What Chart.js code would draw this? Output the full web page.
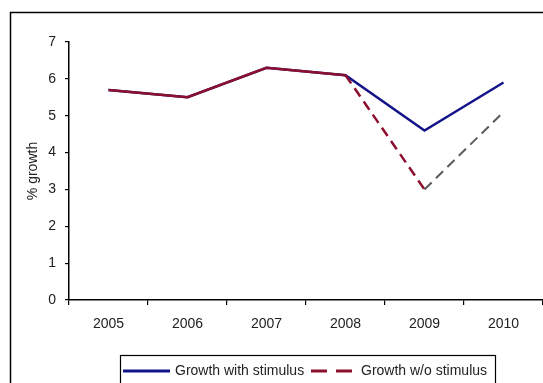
<!DOCTYPE html>
<html>
<head>
<meta charset="utf-8">
<script src="https://cdn.jsdelivr.net/npm/chart.js@4"></script>
<style>
html,body{margin:0;padding:0;background:#fff;}
#wrap{width:543px;height:383px;position:relative;}
</style>
</head>
<body>
<div id="wrap"><canvas id="c" width="543" height="383"></canvas></div>
<script>
const categories = ["2005","2006","2007","2008","2009","2010"];
const withStimulus = [5.7, 5.5, 6.3, 6.1, 4.6, 5.9];
const withoutStimulus = [5.7, 5.5, 6.3, 6.1, 3.0, 5.1];
const seriesNames = ["Growth with stimulus", "Growth w/o stimulus"];
const yTicks = [0,1,2,3,4,5,6,7];

const BLUE = "#14148a";
const RED = "#8c0f2e";
const GRAY = "#5a5a5a";
const FONT = "Liberation Sans, Arial, sans-serif";
const FS = 14;

const framePlugin = {
  id: "frame",
  beforeDraw(chart) {
    const ctx = chart.ctx;
    ctx.save();
    ctx.fillStyle = "#fff";
    ctx.fillRect(0,0,chart.width,chart.height);
    ctx.strokeStyle = "#000";
    ctx.lineWidth = 1.5;
    ctx.strokeRect(10.5, 12.5, 700, 500);
    ctx.restore();
  },
  afterDraw(chart) {
    const ctx = chart.ctx;
    ctx.save();
    ctx.strokeStyle = "#000";
    ctx.lineWidth = 1.2;
    ctx.fillStyle = "#fff";
    ctx.fillRect(120.5, 355.5, 375, 60);
    ctx.strokeRect(120.5, 355.5, 375, 60);
    const ly = 371;
    ctx.strokeStyle = BLUE;
    ctx.lineWidth = 3;
    ctx.setLineDash([]);
    ctx.beginPath(); ctx.moveTo(123, ly); ctx.lineTo(170, ly); ctx.stroke();
    ctx.strokeStyle = RED;
    ctx.setLineDash([16, 9]);
    ctx.beginPath(); ctx.moveTo(311, ly); ctx.lineTo(353, ly); ctx.stroke();
    ctx.setLineDash([]);
    ctx.fillStyle = "#222";
    ctx.font = FS + "px " + FONT;
    ctx.textBaseline = "middle";
    ctx.textAlign = "left";
    ctx.fillText(seriesNames[0], 175, ly + 0.5);
    ctx.fillText(seriesNames[1], 361, ly + 0.5);
    ctx.restore();
  }
};

new Chart(document.getElementById("c"), {
  type: "line",
  data: {
    labels: categories,
    datasets: [
      {
        label: seriesNames[0],
        data: withStimulus,
        borderColor: BLUE,
        borderWidth: 2.5,
        pointRadius: 0,
        tension: 0,
        fill: false,
        order: 1
      },
      {
        label: seriesNames[1],
        data: withoutStimulus,
        borderColor: RED,
        borderWidth: 2.5,
        pointRadius: 0,
        tension: 0,
        fill: false,
        order: 0,
        segment: {
          borderColor: c => c.p0DataIndex >= 4 ? GRAY : RED,
          borderDash: c => c.p0DataIndex >= 3 ? [10, 6] : undefined,
          borderWidth: c => c.p0DataIndex >= 4 ? 2 : 2.5
        }
      }
    ]
  },
  options: {
    responsive: false,
    animation: false,
    devicePixelRatio: 1,
    layout: { padding: { left: 21, top: 42, right: 0, bottom: 43 } },
    plugins: {
      legend: { display: false },
      tooltip: { enabled: false }
    },
    scales: {
      x: {
        offset: true,
        grid: { display: true, offset: true, drawOnChartArea: false, drawTicks: true, tickLength: 5, color: "#000", lineWidth: 1.2 },
        border: { display: true, color: "#000", width: 1.5 },
        ticks: { color: "#222", font: { size: FS, family: FONT }, padding: 11, maxRotation: 0 },
        afterFit(s) { s.height = 40; }
      },
      y: {
        min: 0, max: 7,
        afterBuildTicks(s) { s.ticks = yTicks.map(v => ({ value: v })); },
        grid: { display: true, drawOnChartArea: false, drawTicks: true, tickLength: 4, color: "#000", lineWidth: 1.2 },
        border: { display: true, color: "#000", width: 1.5 },
        ticks: { color: "#222", font: { size: FS, family: FONT }, padding: 9 },
        title: { display: true, text: "% growth", color: "#222", font: { size: FS, family: FONT }, padding: { top: 4, bottom: 4 } },
        afterFit(s) { s.width = 48; }
      }
    }
  },
  plugins: [framePlugin]
});
</script>
</body>
</html>
